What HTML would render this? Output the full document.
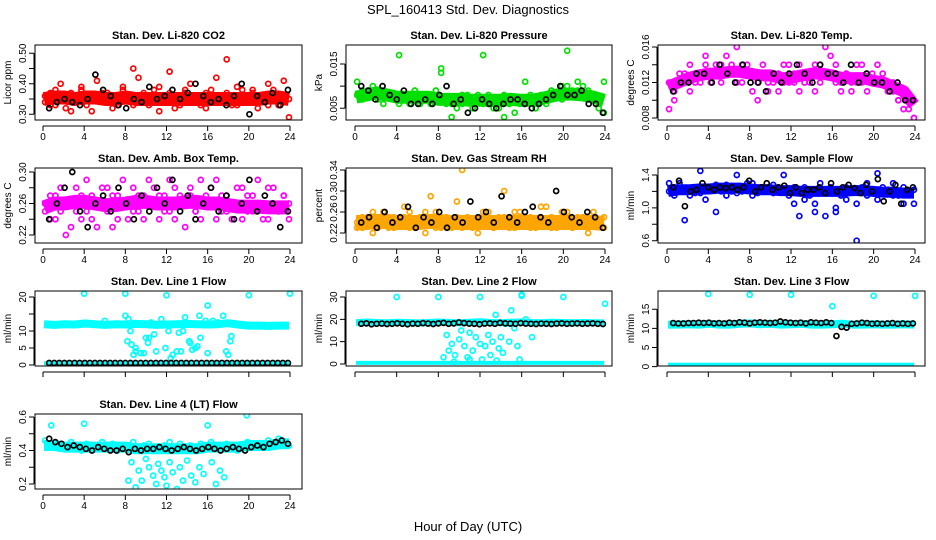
<!DOCTYPE html>
<html><head><meta charset="utf-8"><style>
html,body{margin:0;padding:0;background:#fff;}
svg{display:block;font-family:"Liberation Sans",Arial,sans-serif;}
</style></head><body>
<svg id="chart" width="936" height="540" viewBox="0 0 936 540" xmlns="http://www.w3.org/2000/svg">
<text x="468" y="14" text-anchor="middle" font-size="13">SPL_160413  Std. Dev. Diagnostics</text>
<text x="468" y="531" text-anchor="middle" font-size="13">Hour of Day (UTC)</text>
</svg>
<script>
// ---------- data ----------
const xTicks=[0,4,8,12,16,20,24];
const co2A=[0.34,0.37,0.33,0.40,0.36,0.31,0.35,0.38,0.33,0.36,0.41,0.34,0.37,0.32,0.36,0.39,0.35,0.33,0.42,0.36,0.34,0.38,0.31,0.36,0.44,0.35,0.33,0.37,0.40,0.34,0.36,0.32,0.38,0.35,0.55,0.37,0.33,0.39,0.36,0.34,0.38,0.32,0.36,0.40,0.35,0.33,0.41,0.35];
const co2B=[0.36,0.33,0.38,0.35,0.32,0.37,0.34,0.39,0.36,0.31,0.35,0.37,0.34,0.36,0.33,0.38,0.36,0.45,0.34,0.37,0.33,0.36,0.39,0.34,0.37,0.32,0.36,0.38,0.34,0.36,0.33,0.37,0.35,0.42,0.34,0.48,0.36,0.33,0.38,0.35,0.37,0.34,0.36,0.33,0.38,0.36,0.34,0.29];
const co2Band=[0.35,0.355,0.355,0.35,0.355,0.355,0.35,0.35,0.355,0.35,0.35,0.35,0.35,0.35,0.35,0.35,0.35,0.35,0.35,0.35,0.35,0.35,0.355,0.355,0.35];
const co2K=[0.32,0.34,0.35,0.34,0.33,0.35,0.43,0.38,0.36,0.33,0.32,0.35,0.34,0.39,0.35,0.36,0.38,0.35,0.37,0.40,0.36,0.34,0.35,0.33,0.36,0.40,0.30,0.36,0.34,0.37,0.33,0.38];
const presA=[0.011,0.009,0.008,0.010,0.007,0.009,0.008,0.007,0.017,0.008,0.006,0.009,0.007,0.008,0.006,0.009,0.014,0.007,0.006,0.005,0.008,0.007,0.006,0.008,0.017,0.006,0.007,0.005,0.008,0.006,0.007,0.006,0.011,0.007,0.005,0.008,0.007,0.009,0.008,0.010,0.018,0.009,0.011,0.008,0.009,0.007,0.006,0.011];
const presB=[0.008,0.007,0.009,0.008,0.007,0.006,0.008,0.007,0.006,0.008,0.007,0.009,0.006,0.008,0.007,0.009,0.013,0.006,0.003,0.007,0.006,0.008,0.005,0.007,0.006,0.008,0.005,0.007,0.003,0.006,0.004,0.007,0.006,0.008,0.005,0.007,0.006,0.009,0.008,0.007,0.010,0.008,0.009,0.010,0.007,0.008,0.005,0.004];
const presBand=[0.0075,0.008,0.0085,0.008,0.0075,0.0075,0.0075,0.0075,0.007,0.007,0.007,0.0068,0.0068,0.0068,0.0068,0.007,0.0068,0.0068,0.0072,0.0078,0.0082,0.0082,0.008,0.0075,0.0068];
const presK=[0.010,0.009,0.007,0.010,0.008,0.007,0.009,0.006,0.006,0.007,0.006,0.008,0.010,0.006,0.007,0.004,0.005,0.007,0.006,0.005,0.006,0.007,0.007,0.006,0.005,0.006,0.007,0.008,0.010,0.008,0.008,0.009,0.006,0.006,0.004];
const tempA=[0.009,0.011,0.012,0.013,0.011,0.012,0.013,0.014,0.012,0.013,0.014,0.015,0.013,0.012,0.014,0.013,0.011,0.012,0.013,0.011,0.012,0.013,0.012,0.014,0.013,0.011,0.012,0.013,0.014,0.012,0.013,0.015,0.012,0.011,0.013,0.012,0.014,0.012,0.011,0.013,0.012,0.013,0.012,0.011,0.010,0.011,0.009,0.008];
const tempB=[0.012,0.010,0.013,0.012,0.014,0.013,0.012,0.015,0.013,0.014,0.012,0.013,0.014,0.016,0.012,0.014,0.013,0.010,0.014,0.012,0.013,0.011,0.014,0.012,0.012,0.014,0.013,0.012,0.011,0.014,0.016,0.013,0.014,0.012,0.013,0.011,0.012,0.014,0.013,0.012,0.014,0.012,0.011,0.012,0.010,0.009,0.010,0.008];
const tempBand=[0.0115,0.012,0.0125,0.0128,0.013,0.013,0.0132,0.0132,0.013,0.0128,0.0128,0.0125,0.0125,0.0128,0.013,0.013,0.0128,0.0125,0.0125,0.0125,0.0122,0.012,0.0115,0.011,0.0095];
const tempK=[0.011,0.012,0.012,0.013,0.013,0.012,0.014,0.013,0.012,0.014,0.012,0.012,0.011,0.013,0.012,0.013,0.014,0.013,0.012,0.014,0.013,0.013,0.012,0.014,0.012,0.013,0.012,0.012,0.011,0.012,0.010,0.010];
const ambA=[0.25,0.27,0.24,0.28,0.26,0.23,0.25,0.27,0.29,0.24,0.26,0.28,0.25,0.23,0.27,0.26,0.24,0.28,0.25,0.27,0.29,0.26,0.24,0.27,0.25,0.28,0.26,0.23,0.27,0.25,0.29,0.26,0.28,0.24,0.27,0.25,0.26,0.28,0.24,0.27,0.25,0.29,0.26,0.24,0.28,0.25,0.27,0.24];
const ambB=[0.26,0.24,0.27,0.25,0.22,0.26,0.28,0.24,0.25,0.27,0.23,0.26,0.28,0.27,0.24,0.29,0.26,0.25,0.27,0.24,0.26,0.28,0.27,0.25,0.29,0.24,0.27,0.26,0.28,0.25,0.24,0.27,0.26,0.29,0.25,0.27,0.24,0.26,0.28,0.25,0.27,0.26,0.24,0.28,0.26,0.25,0.27,0.26];
const ambBand=[0.255,0.26,0.26,0.262,0.262,0.26,0.258,0.258,0.26,0.262,0.262,0.26,0.26,0.26,0.262,0.262,0.26,0.26,0.258,0.256,0.256,0.256,0.255,0.255,0.255];
const ambK=[0.24,0.26,0.28,0.30,0.25,0.23,0.26,0.27,0.25,0.28,0.26,0.24,0.27,0.25,0.28,0.26,0.29,0.25,0.27,0.24,0.26,0.28,0.25,0.27,0.24,0.26,0.29,0.25,0.27,0.26,0.23,0.25];
const rhA=[0.24,0.23,0.25,0.22,0.24,0.26,0.23,0.25,0.24,0.27,0.23,0.24,0.25,0.22,0.24,0.26,0.23,0.25,0.24,0.28,0.23,0.25,0.24,0.22,0.26,0.24,0.23,0.25,0.30,0.24,0.23,0.26,0.24,0.25,0.23,0.27,0.24,0.25,0.23,0.24,0.26,0.23,0.25,0.24,0.22,0.25,0.24,0.23];
const rhB=[0.23,0.25,0.24,0.26,0.23,0.24,0.25,0.23,0.24,0.25,0.26,0.23,0.24,0.26,0.29,0.23,0.25,0.24,0.23,0.25,0.34,0.24,0.23,0.25,0.24,0.26,0.23,0.24,0.25,0.23,0.26,0.24,0.25,0.23,0.24,0.25,0.27,0.23,0.24,0.26,0.25,0.23,0.24,0.25,0.23,0.26,0.24,0.25];
const rhBand=[0.24,0.24,0.242,0.242,0.24,0.24,0.24,0.242,0.242,0.24,0.24,0.24,0.24,0.24,0.24,0.24,0.24,0.24,0.24,0.24,0.24,0.24,0.24,0.24,0.238];
const rhK=[0.24,0.25,0.23,0.26,0.24,0.25,0.27,0.23,0.25,0.24,0.26,0.23,0.25,0.24,0.28,0.25,0.26,0.24,0.29,0.25,0.24,0.26,0.27,0.25,0.24,0.30,0.26,0.25,0.24,0.26,0.25,0.23];
const sfA=[1.30,1.25,1.20,0.85,1.22,1.18,1.45,1.20,1.25,0.95,1.22,1.28,1.20,1.40,1.25,1.22,1.30,1.18,1.25,1.20,1.28,1.22,1.40,1.20,1.05,0.90,1.25,1.15,1.05,1.30,0.90,1.20,0.95,1.15,1.25,1.20,1.05,1.18,1.30,1.20,1.10,1.25,1.20,1.30,1.15,1.05,1.20,1.05];
const sfB=[1.20,1.15,1.30,1.22,1.15,1.25,1.18,1.10,1.22,1.28,1.20,1.15,1.25,1.18,1.20,1.30,1.15,1.22,1.20,1.25,1.18,1.25,1.20,1.15,1.25,1.20,1.10,1.22,0.95,1.20,1.18,1.25,1.00,1.20,1.10,1.22,0.60,1.25,1.15,1.20,1.42,1.18,1.22,1.15,1.18,1.25,1.20,1.22];
const sfBand=[1.2,1.22,1.22,1.23,1.23,1.24,1.24,1.24,1.23,1.22,1.22,1.21,1.21,1.2,1.2,1.2,1.2,1.2,1.21,1.21,1.2,1.19,1.19,1.18,1.18];
const sfK=[1.25,1.33,1.02,1.20,1.22,1.30,1.25,1.22,1.25,1.24,1.25,1.22,1.25,1.33,1.20,1.25,1.30,1.22,1.25,1.27,1.18,1.25,1.18,1.22,1.22,1.25,1.18,1.30,1.20,1.25,1.28,1.24,1.18,1.28,1.20,1.35,1.08,1.20,1.28,1.05,1.22,1.25];
const l1Band=[12,11.8,12,11.9,12.2,12,11.8,12,11.9,12.1,12,11.8,11.9,12,12.1,12,11.9,12,12.3,11.9,11.6,11.6,11.5,11.6,11.6];
const l1Low=[0.5,0.5,0.5,0.5,0.5,0.5,0.5,0.5,0.5,0.5,0.5,0.5,0.5,0.5,0.5,0.5,0.5,0.5,0.5,0.5,0.5,0.5,0.5,0.5,0.5];
const l1K=[0.6,0.6,0.6,0.6,0.6,0.6,0.6,0.6,0.6,0.6,0.6,0.6,0.6,0.6,0.6,0.6,0.6,0.6,0.6,0.6,0.6,0.6,0.6,0.6,0.6,0.6,0.6,0.6,0.6,0.6,0.6,0.6,0.6,0.6,0.6,0.6,0.6,0.6,0.6,0.6,0.6,0.6,0.6,0.6,0.6,0.6,0.6,0.6];
const l1OutH=[4,8,12,20,24,8.3,8.5,8.2,8.6,9,9,8.8,9.5,9.8,10,10.2,10.3,10.8,11,11.5,11.9,12.2,12.4,12.6,13,13.2,13.4,13.6,13.8,14.2,14.3,14.5,14.8,15,15.3,15.2,15.8,16,16,16.5,17.5,17.8,18,18.2,18.3,8,6,10.5,17];
const l1OutV=[21,21,20.5,20.5,21,13.5,10,7,6,5,4,3,3.5,3.5,8,6.5,8,9,4,13.5,5,10,2,3,4,9.5,4,10,14,7,6.5,4.5,5,5.5,8,14.5,13,17.5,3.5,13,14.5,4,3,7,8.5,14.5,13,12.5,12.5];
const l2Band=[18.5,18.8,18.6,18.5,18.7,18.6,18.4,18.6,18.8,18.6,18.5,18.7,18.9,18.6,18.5,18.7,18.8,18.6,18.5,18.7,18.6,18.5,18.6,18.5,18.4];
const l2Low=[0.5,0.5,0.5,0.5,0.5,0.5,0.5,0.5,0.5,0.5,0.5,0.5,0.5,0.5,0.5,0.5,0.5,0.5,0.5,0.5,0.5,0.5,0.5,0.5,0.5];
const l2K=[18,18.2,17.8,18,18.1,17.9,18,18.2,18,17.8,18.1,18,18.3,18.1,17.9,18.2,18.4,18,18.2,18.6,18.3,18.1,18,17.8,18.1,18.2,18,18.4,18.2,18.1,18,18.3,18.1,18,17.9,18.1,18,17.9,18.1,18.2,18,18.1,18.2,18,18.1,18.2,18,17.9];
const l2OutH=[4,8,12,16,20,24,8.5,8.8,9,9.3,9.6,10,10.2,10.5,10.8,11,11.3,11.6,12,12.2,12.5,12.8,13,13.2,13.5,13.8,14,14.2,14.5,14.8,15,15.3,15.6,16,16.4,17,9.5,11,13.6,15.8];
const l2OutV=[30,30,30,30.5,30,27,3,13,6,9,4,11,15,8,3,14,6,12,9,2,8,13,4,10,22,7,12,5,18,10,24,16,8,31,20,12,1,2,1.5,2];
const l3Band=[11,11,11.1,11,11.2,11,11,11.2,11.3,11.1,11.2,11,11.1,11.2,11,11,11.1,11.2,11,11,11.1,11,11,11.1,11];
const l3Low=[0.5,0.5,0.5,0.5,0.5,0.5,0.5,0.5,0.5,0.5,0.5,0.5,0.5,0.5,0.5,0.5,0.5,0.5,0.5,0.5,0.5,0.5,0.5,0.5,0.5];
const l3K=[11.4,11.3,11.3,11.4,11.4,11.5,11.4,11.5,11.3,11.4,11.3,11.5,11.4,11.6,11.5,11.3,11.5,11.6,11.5,11.4,11.5,11.8,11.6,11.5,11.4,11.5,11.3,11.6,11.5,11.4,11.6,11.4,8.0,10.4,10.2,11.2,11.3,11.5,11.4,11.2,11.3,11.2,11.3,11.4,11.2,11.3,11.2,11.3];
const l3OutH=[4,8,12,16,20,24];
const l3OutV=[19,18.8,18.8,15.8,18.5,18.5];
const l4A=[0.46,0.42,0.44,0.41,0.43,0.45,0.42,0.40,0.44,0.43,0.41,0.45,0.42,0.44,0.40,0.43,0.42,0.45,0.41,0.43,0.44,0.42,0.40,0.43,0.45,0.41,0.44,0.42,0.43,0.40,0.44,0.42,0.45,0.41,0.43,0.44,0.42,0.40,0.43,0.45,0.42,0.44,0.43,0.46,0.44,0.47,0.45,0.43];
const l4Band=[0.43,0.43,0.42,0.42,0.42,0.42,0.42,0.42,0.42,0.41,0.41,0.41,0.41,0.41,0.41,0.41,0.42,0.42,0.42,0.42,0.43,0.43,0.43,0.44,0.44];
const l4K=[0.47,0.45,0.44,0.42,0.43,0.42,0.41,0.40,0.42,0.41,0.40,0.40,0.41,0.39,0.41,0.40,0.41,0.41,0.42,0.41,0.40,0.41,0.42,0.41,0.40,0.41,0.42,0.41,0.40,0.41,0.42,0.41,0.40,0.42,0.43,0.42,0.44,0.45,0.46,0.44];
const l4OutH=[0.8,4,8.3,8.6,9,9.3,9.6,10,10.3,10.7,11,11.2,11.5,11.8,12,12.3,12.6,13,13.3,13.6,14,14.4,14.8,15.2,15.6,16,16.4,16.8,17.2,17.6,18,19.8];
const l4OutV=[0.55,0.56,0.22,0.33,0.18,0.28,0.22,0.35,0.30,0.25,0.20,0.32,0.28,0.24,0.19,0.33,0.27,0.17,0.30,0.22,0.34,0.25,0.21,0.30,0.26,0.55,0.33,0.20,0.28,0.24,0.15,0.61];

// ---------- layout ----------
const cols=[{bl:35,br:302,x0:43,x24:290},{bl:346,br:612,x0:355,x24:605},{bl:658,br:925,x0:667,x24:915}];
const rows=[{bt:45,bb:120,lab:true},{bt:168,bb:243,lab:true},{bt:291,bb:366,lab:false},{bt:414,bb:489,lab:true}];
const svg=document.getElementById('chart');
const NS='http://www.w3.org/2000/svg';
function mk(tag,attrs,parent){const e=document.createElementNS(NS,tag);for(const k in attrs)e.setAttribute(k,attrs[k]);(parent||svg).appendChild(e);return e;}

const panels=[
 {c:0,r:0,title:'Stan. Dev. Li-820 CO2',yl:'Licor ppm',col:'#ff0000',v1:0.30,p1:114.3,v2:0.50,p2:53.3,ticks:[0.30,0.35,0.40,0.45,0.50],labels:['0.30','','0.40','','0.50'],series:[co2A,co2B],band:co2Band,bandW:14,k:co2K},
 {c:1,r:0,title:'Stan. Dev. Li-820 Pressure',yl:'kPa',col:'#00e000',v1:0.005,p1:108.3,v2:0.015,p2:64,ticks:[0.005,0.010,0.015],labels:['0.005','','0.015'],series:[presA,presB],band:presBand,bandW:13,k:presK},
 {c:2,r:0,title:'Stan. Dev. Li-820 Temp.',yl:'degrees C',col:'#ff00ff',v1:0.008,p1:118,v2:0.016,p2:47,ticks:[0.008,0.010,0.012,0.014,0.016],labels:['0.008','','0.012','','0.016'],series:[tempA,tempB],band:tempBand,bandW:12,k:tempK},
 {c:0,r:1,title:'Stan. Dev. Amb. Box Temp.',yl:'degrees C',col:'#ff00ff',v1:0.22,p1:235,v2:0.30,p2:172,ticks:[0.22,0.24,0.26,0.28,0.30],labels:['0.22','','0.26','','0.30'],series:[ambA,ambB],band:ambBand,bandW:14,k:ambK},
 {c:1,r:1,title:'Stan. Dev. Gas Stream RH',yl:'percent',col:'#ffa500',v1:0.22,p1:233,v2:0.34,p2:170,ticks:[0.22,0.26,0.30,0.34],labels:['0.22','0.26','0.30','0.34'],series:[rhA,rhB],band:rhBand,bandW:15,k:rhK},
 {c:2,r:1,title:'Stan. Dev. Sample Flow',yl:'ml/min',col:'#0000ff',v1:0.6,p1:240.7,v2:1.4,p2:175,ticks:[0.6,0.8,1.0,1.2,1.4],labels:['0.6','','1.0','','1.4'],series:[sfA,sfB],band:sfBand,bandW:11,k:sfK},
 {c:0,r:2,title:'Stan. Dev. Line 1 Flow',yl:'ml/min',col:'#00ffff',v1:0,p1:365,v2:20,p2:297,ticks:[0,5,10,15,20],labels:['0','5','10','','20'],band:l1Band,bandW:8,low:l1Low,k:l1K,outH:l1OutH,outV:l1OutV},
 {c:1,r:2,title:'Stan. Dev. Line 2 Flow',yl:'ml/min',col:'#00ffff',v1:0,p1:364,v2:30,p2:297,ticks:[0,10,20,30],labels:['0','10','20','30'],band:l2Band,bandW:7,low:l2Low,k:l2K,outH:l2OutH,outV:l2OutV},
 {c:2,r:2,title:'Stan. Dev. Line 3 Flow',yl:'ml/min',col:'#00ffff',v1:0,p1:366.6,v2:15,p2:309.3,ticks:[0,5,10,15],labels:['0','5','10','15'],band:l3Band,bandW:8,low:l3Low,k:l3K,outH:l3OutH,outV:l3OutV},
 {c:0,r:3,title:'Stan. Dev. Line 4 (LT) Flow',yl:'ml/min',col:'#00ffff',v1:0.2,p1:484,v2:0.6,p2:417,ticks:[0.2,0.3,0.4,0.5,0.6],labels:['0.2','','0.4','','0.6'],series:[l4A],band:l4Band,bandW:11,k:l4K,outH:l4OutH,outV:l4OutV}
];

panels.forEach((p,pi)=>{
 const C=cols[p.c],R=rows[p.r];
 const g=mk('g',{});
 
 
 const xs=h=>C.x0+h*(C.x24-C.x0)/24;
 const ys=v=>p.p1+(v-p.v1)*(p.p2-p.p1)/(p.v2-p.v1);
 const clipId='clip'+pi;
 const cp=mk('clipPath',{id:clipId},g);mk('rect',{x:C.bl,y:R.bt,width:C.br-C.bl,height:R.bb-R.bt},cp);
 const plot=mk('g',{'clip-path':'url(#'+clipId+')'},g);
 
 
 const pt=(h,v,color,name)=>{const c=mk('circle',{cx:xs(h),cy:ys(v),r:2.5,fill:'none',stroke:color,'stroke-width':1.7},plot);
  
  };
 const line=(arr,w,name)=>{const n=arr.length;const d=arr.map((v,i)=>(i?'L':'M')+xs(0.1+i*23.8/(n-1)).toFixed(1)+','+ys(v).toFixed(1)).join('');
  const l=mk('path',{d:d,fill:'none',stroke:p.col,'stroke-width':w,'stroke-linejoin':'round'},plot);
  
  };
 if(p.band)line(p.band,p.bandW,'dense-band');
 if(p.low)line(p.low,4,'low-band');
 (p.series||[]).forEach(arr=>{const n=arr.length;arr.forEach((v,i)=>pt(0.2+i*23.7/(n-1),v,p.col,'point'));});
 if(p.outH)p.outH.forEach((h,i)=>pt(h,p.outV[i],p.col,'outlier-point'));
 if(p.k){const n=p.k.length;p.k.forEach((v,i)=>pt(0.6+i*23.2/(n-1),v,'#000','hourly-point'));}
 const box=mk('rect',{x:C.bl,y:R.bt,width:C.br-C.bl,height:R.bb-R.bt,fill:'none',stroke:'#000','stroke-width':1},g);
 
 
 const t=mk('text',{x:(C.bl+C.br)/2,y:R.bt-6,'text-anchor':'middle','font-size':11,'font-weight':'bold'},g);t.textContent=p.title;
 
 
 const ax=R.bb+6;
 const xa=mk('path',{d:'M'+xs(0)+','+ax+'H'+xs(24)+xTicks.map(h=>'M'+xs(h)+','+ax+'v5').join(''),stroke:'#000',fill:'none'},g);
 
 
 if(R.lab)xTicks.forEach(h=>{const l=mk('text',{x:xs(h),y:R.bb+20,'text-anchor':'middle','font-size':10},g);l.textContent=h;
  
  });
 const yx=C.bl-1;
 const ya=mk('path',{d:'M'+yx+','+ys(p.ticks[0])+'V'+ys(p.ticks[p.ticks.length-1])+p.ticks.map(v=>'M'+yx+','+ys(v)+'h-5').join(''),stroke:'#000',fill:'none'},g);
 
 
 p.ticks.forEach((v,i)=>{if(!p.labels[i])return;const yy=ys(v);const l=mk('text',{x:C.bl-9,y:yy,'text-anchor':'middle','font-size':10,transform:'rotate(-90 '+(C.bl-9)+' '+yy+')'},g);l.textContent=p.labels[i];
  
  });
 const cy=(R.bt+R.bb)/2;
 const yt=mk('text',{x:C.bl-24,y:cy,'text-anchor':'middle','font-size':10,transform:'rotate(-90 '+(C.bl-24)+' '+cy+')'},g);yt.textContent=p.yl;
 
 
});
</script>
</body></html>
